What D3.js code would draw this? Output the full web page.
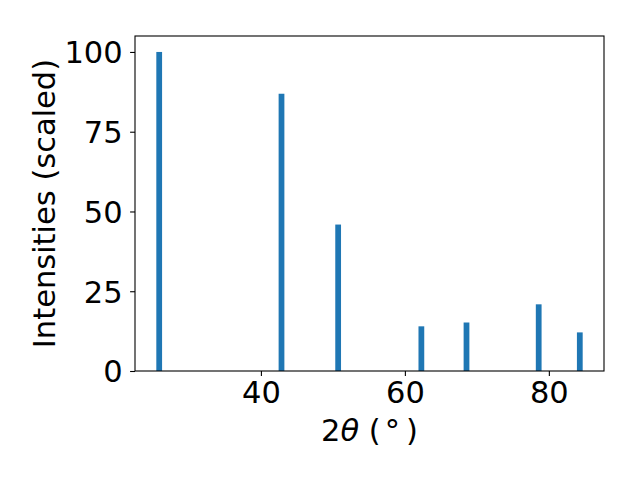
<!DOCTYPE html>
<html>
<head>
<meta charset="utf-8">
<script src="https://cdn.jsdelivr.net/npm/d3@7"></script>
<style>
  body { margin: 0; background: #fff; }
  svg { display: block; }
  text { font-family: 'DejaVu Sans', sans-serif; fill: #000; }
</style>
</head>
<body>
<div id="chart"></div>
<script>
// peak positions (2 theta, degrees) and scaled intensities
const peaks = [25.87, 42.86, 50.73, 62.29, 68.56, 78.59, 84.3];
const intensities = [100, 86.9, 45.9, 14.0, 15.2, 20.9, 12.1];
const xTicks = [40, 60, 80];
const yTicks = [0, 25, 50, 75, 100];
const barWidth = 0.8;

const width = 640, height = 480;
const margin = { top: 36, right: 36, bottom: 109, left: 135 };
const fontSize = 30.5;

const svg = d3.select('#chart').append('svg')
    .attr('width', width)
    .attr('height', height);

// matplotlib style auto-margins (5%)
const lo = d3.min(peaks) - barWidth / 2;
const hi = d3.max(peaks) + barWidth / 2;
const pad = (hi - lo) * 0.05;

const x = d3.scaleLinear()
    .domain([lo - pad, hi + pad])
    .range([margin.left, width - margin.right]);

const y = d3.scaleLinear()
    .domain([0, d3.max(intensities) * 1.05])
    .range([height - margin.bottom, margin.top]);

// bars
svg.append('g')
    .selectAll('rect')
    .data(peaks)
    .join('rect')
    .attr('x', d => x(d - barWidth / 2))
    .attr('width', d => x(d + barWidth / 2) - x(d - barWidth / 2))
    .attr('y', (d, i) => y(intensities[i]))
    .attr('height', (d, i) => y(0) - y(intensities[i]))
    .attr('fill', '#1f77b4');

// axes
const xAxis = svg.append('g')
    .attr('transform', `translate(0,${height - margin.bottom})`)
    .call(d3.axisBottom(x).tickValues(xTicks).tickSize(4.9).tickPadding(4.9).tickFormat(d3.format('d')));

const yAxis = svg.append('g')
    .attr('transform', `translate(${margin.left},0)`)
    .call(d3.axisLeft(y).tickValues(yTicks).tickSize(4.9).tickPadding(7.5).tickFormat(d3.format('d')));

[xAxis, yAxis].forEach(a => {
    a.select('.domain').remove();
    a.selectAll('.tick line').attr('stroke', '#000').attr('stroke-width', 1.1);
    a.selectAll('.tick text')
        .style('font-family', "'DejaVu Sans', sans-serif")
        .style('font-size', fontSize + 'px')
        .attr('fill', '#000');
});
xAxis.selectAll('.tick text').attr('dy', null).attr('y', 32);
yAxis.selectAll('.tick text').attr('dy', '0.36em');

// frame
svg.append('rect')
    .attr('x', margin.left)
    .attr('y', margin.top)
    .attr('width', width - margin.left - margin.right)
    .attr('height', height - margin.top - margin.bottom)
    .attr('fill', 'none')
    .attr('stroke', '#000')
    .attr('stroke-width', 1.1);

// x label
const xl = svg.append('text')
    .attr('x', (margin.left + width - margin.right) / 2)
    .attr('y', 441)
    .attr('text-anchor', 'middle')
    .style('font-size', fontSize + 'px');
xl.append('tspan').text('2');
xl.append('tspan').style('font-style', 'italic').text('θ');
xl.append('tspan').text(' (');
xl.append('tspan').attr('dx', 4).text('°');
xl.append('tspan').attr('dx', 6).text(')');

// y label
svg.append('text')
    .attr('transform', `translate(55,${(margin.top + height - margin.bottom) / 2}) rotate(-90)`)
    .attr('text-anchor', 'middle')
    .style('font-size', fontSize + 'px')
    .text('Intensities (scaled)');
</script>
</body>
</html>
